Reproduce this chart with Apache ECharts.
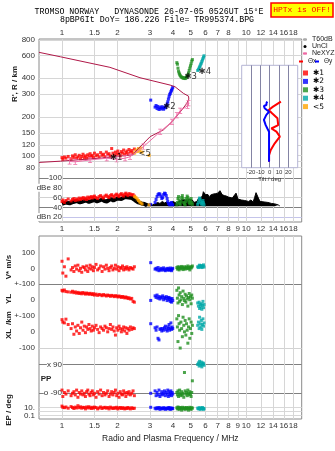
<!DOCTYPE html>
<html>
<head>
<meta charset="utf-8">
<script src="https://cdn.jsdelivr.net/npm/echarts@6.0.0/dist/echarts.min.js"></script>
<style>
html, body { margin: 0; padding: 0; background: #fff; }
#chart { width: 335px; height: 451px; }
</style>
</head>
<body>
<div id="chart"></div>
<script>
var L = Math.log10;

// axis ticks
var topTicks = [1, 1.5, 2, 3, 4, 5, 6, 7, 8, 10, 12, 14, 16, 18];
var freqTicks = [1, 1.5, 2, 3, 4, 5, 6, 7, 8, 9, 10, 12, 14, 16, 18];
var heightTicks = [80, 90, 100, 120, 150, 200, 300, 400, 600, 800];
var ampTicks = [20, 40, 60, 80, 100];
var vTicks = [-100, 0, 100];
var ylTicks = [-100, 0];
var xlTicks = [-100, 0];
var ppTicks = [-90, 90];
var epTicks = [0.1, 1, 10];
var tiltTicks = [-20, -10, 0, 10, 20];

// real height profile (MHz, km)
var profF = [0.75, 0.98, 1.61, 2.43, 2.55, 2.77, 3.01, 3.55, 3.95, 4.47, 4.76, 4.88, 4.86, 4.56, 4.11, 3.86, 2.65, 1.82, 0.98, 0.75];
var profH = [88, 90, 95, 101, 110, 124, 140, 158, 183, 226, 255, 275, 290, 305, 343, 354, 404, 487, 589, 638];

// NeXYZ
var nexF = [1.10, 1.18, 1.42, 1.75, 1.98, 2.20, 2.34, 2.77, 3.41, 3.95, 4.20, 4.38, 4.80, 4.86];
var nexH = [89.5, 89, 92, 95, 93, 95, 97.5, 117, 153, 183, 206, 223, 244, 255];

// echo *1 (red)
var redF = [1.00, 1.01, 1.03, 1.05, 1.08, 1.12, 1.14, 1.16, 1.18, 1.20, 1.22, 1.24, 1.26, 1.28, 1.30,
    1.32, 1.34, 1.36, 1.38, 1.40, 1.42, 1.44, 1.46, 1.48, 1.50,
    1.53, 1.56, 1.59, 1.62, 1.65, 1.68, 1.71, 1.74, 1.77, 1.80, 1.83, 1.86, 1.89, 1.92, 1.95, 1.98,
    2.01, 2.04, 2.07, 2.10, 2.13, 2.16, 2.19, 2.22, 2.25, 2.28, 2.31, 2.35, 2.39, 2.43, 2.47];
var redH = [96, 93, 97, 95, 98, 94, 99, 96, 101, 95, 97, 100, 94, 98, 102, 96, 99, 95, 101, 97,
    103, 98, 100, 96, 104, 99, 101, 97, 105, 100, 102, 98, 106, 101, 103, 99, 113, 104, 100, 106,
    102, 108, 103, 99, 107, 104, 110, 101, 105, 108, 103, 111, 106, 109, 104, 112];
var redAmp = [52, 55, 50, 54, 57, 53, 56, 58, 54, 57, 55, 59, 56, 58, 60, 57, 59, 56, 61, 58,
    60, 62, 59, 61, 63, 60, 58, 62, 64, 61, 59, 63, 65, 62, 60, 64, 66, 63, 61, 65,
    67, 64, 62, 66, 68, 65, 63, 67, 69, 66, 64, 68, 67, 65, 66, 63];
var redV = [45, -30, 10, -50, 60, -10, 5, -20, 15, -5, 20, -15, 0, -25, 10, 5, -10, 15, -20, 0,
    20, -5, 10, -15, 5, 25, -10, 0, 15, -20, 10, -5, 20, 0, -15, 5, 15, -10, 0, 20,
    -5, 10, -15, 5, 0, 15, -10, 5, -5, 10, 0, -10, 5, 0, -5, 10];
var redYL = [60, 55, 62, 52, 50, 48, 54, 45, 50, 42, 47, 40, 44, 38, 46, 41, 36, 43, 39, 35,
    41, 37, 33, 39, 30, 36, 28, 34, 31, 26, 33, 29, 24, 30, 27, 22, 28, 25, 20, 26,
    23, 18, 24, 20, 15, 21, 17, 12, 18, 14, 8, 13, 5, 9, -10, -15];
var redXL = [75, 60, 55, 78, 45, 20, 50, -15, 30, 5, 40, -10, 25, 60, 10, 35, -5, 30, 15, 45,
    20, 5, 35, 10, 25, 40, 15, -5, 30, 20, 10, 35, 25, 0, 20, 45, 15, 30, 5, -20,
    25, 10, 35, 20, 0, 15, 30, 5, 25, -10, 20, 10, 30, 15, 25, 20];
var redPP = [-70, -110, -85, -95, -75, -105, -90, -80, -100, -70, -115, -85, -95, -75, -100, -90, -110, -80, -70, -95,
    -105, -85, -75, -100, -90, -115, -80, -95, -70, -105, -85, -100, -90, -75, -110, -95, -80, -100, -85, -70,
    -105, -90, -115, -80, -95, -100, -75, -90, -110, -85, -95, -80, -100, -90, -75, -105];
var redEP = [20, 10, 8, 12, 6, 15, 9, 5, 11, 7, 25, 8, 13, 6, 10, 9, 4, 12, 7, 14,
    8, 5, 10, 6, 11, 9, 4, 7, 12, 5, 8, 10, 6, 9, 4, 11, 7, 5, 8, 6,
    10, 4, 7, 9, 5, 8, 6, 4, 7, 5, 9, 6, 4, 8, 5, 6];

// echo *2 (blue)
var blueF = [3.03, 3.20, 3.24, 3.28, 3.32, 3.36, 3.40, 3.44, 3.48, 3.52, 3.56, 3.60, 3.64, 3.68, 3.72, 3.75, 3.78, 3.81, 3.84, 3.87, 3.90, 3.93, 3.96, 3.99];
var blueH = [270, 238, 245, 232, 241, 228, 236, 230, 240, 234, 229, 238, 235, 244, 252, 262, 275, 287, 298, 305, 314, 322, 330, 340];
var blueAmp = [46, 50, 56, 62, 66, 68, 67, 63, 58, 60, 66, 69, 68, 64, 58, 52, 48, 47, 45, 46, 48, 50, 46, 45];
var blueV = [36, -5, 0, -10, 5, -15, -8, 0, -12, -5, 3, -10, -15, -3, -8, 0, -12, -5, -10, 2, -8, -15, -5, 0];
var blueYL = [-4, 25, 15, 30, 10, 20, 5, 18, 12, 25, 0, 15, 8, 20, -5, 10, 15, 0, 12, -10, 5, -15, 8, -5];
var blueXL = [50, 25, 10, 30, -40, -50, 15, 20, 5, 20, 10, 25, 35, 15, 5, 30, 20, 45, 10, 25, 55, 15, 30, 20];
var bluePP = [-90, -75, -105, -85, -100, -70, -110, -95, -80, -100, -90, -75, -105, -85, -95, -70, -110, -80, -100, -90, -75, -105, -85, -95];
var blueEP = [10, 6, 4, 8, 5, 9, 3, 7, 5, 4, 8, 6, 3, 5, 7, 4, 6, 9, 5, 3, 7, 4, 6, 5];

// echo *3 (green)
var greenF = [4.20, 4.23, 4.26, 4.29, 4.32, 4.35, 4.38, 4.42, 4.46, 4.50, 4.54, 4.58, 4.62, 4.66, 4.70, 4.74, 4.78, 4.82, 4.86, 4.90, 4.94, 4.98, 5.02, 5.06, 5.10];
var greenH = [530, 515, 480, 455, 440, 430, 420, 412, 408, 405, 402, 400, 404, 398, 402, 408, 415, 425, 440, 460, 480, 500, 520, 545, 560];
var greenAmp = [45, 50, 58, 62, 55, 48, 46, 52, 60, 64, 58, 50, 47, 45, 52, 58, 63, 60, 55, 50, 47, 52, 58, 50, 46];
var greenV = [5, -5, 10, 0, -10, 8, 2, -3, 12, 5, -8, 0, 10, -5, 3, 8, -2, 15, 0, 5, -10, 10, 2, 8, 15];
var greenYL = [60, 10, -20, 75, 30, -10, 45, 0, 20, -30, 55, 10, -5, 35, -15, 25, 5, -40, 15, 40, 0, 20, -25, 30, 10];
var greenXL = [80, 30, -60, 100, 50, 10, -100, 60, 20, -30, 90, 40, 0, 70, -20, 50, 10, -70, 30, 80, -40, 20, 60, -10, 40];
var greenPP = [-85, -100, -75, -110, -90, -70, -95, -105, -80, -100, -90, -115, 40, -75, -95, -85, -105, -70, -90, -100, -80, -95, -110, -85, -12];
var greenEP = [8, 4, 12, 6, 3, 9, 5, 7, 2, 10, 4, 6, 8, 3, 5, 9, 4, 7, 2, 6, 10, 5, 3, 8, 6];

// echo *4 (cyan)
var cyanF = [5.45, 5.50, 5.55, 5.58, 5.62, 5.66, 5.70, 5.74, 5.78, 5.82, 5.86, 5.90];
var cyanH = [460, 470, 480, 490, 500, 515, 525, 540, 555, 570, 585, 600];
var cyanAmp = [46, 50, 55, 59, 57, 52, 48, 46, 50, 54, 49, 45];
var cyanV = [10, 5, 15, 20, 8, 12, 18, 5, 10, 15, 22, 8];
var cyanYL = [-20, -40, -15, -55, -30, -45, -25, -60, -35, -10, -50, -30];
var cyanXL = [40, 60, 20, 90, 50, 30, 70, 15, 45, 80, 35, 55];
var cyanPP = [90, 100, 80, 110, 95, 85, 105, 75, 90, 100, 95, 85];
var cyanEP = [6, 4, 8, 5, 3, 7, 5, 4, 9, 6, 3, 5];

// echo <5 (orange)
var orangeF = [2.48, 2.52, 2.56, 2.60, 2.64, 2.68, 2.72, 2.97];
var orangeH = [104, 110, 107, 113, 108, 114, 106, 100];
var orangeAmp = [62, 60, 57, 54, 51, 49, 47, 45];

// unclassified amplitude
var bandF = [1.00, 1.05, 1.10, 1.15, 1.20, 1.25, 1.30, 1.35, 1.40, 1.45, 1.50, 1.55, 1.60, 1.65, 1.70, 1.75, 1.80, 1.85, 1.90, 1.95,
    2.00, 2.05, 2.10, 2.15, 2.20, 2.25, 2.30, 2.35, 2.40, 2.45, 2.50, 2.55, 2.60, 2.65, 2.70, 2.75, 2.80, 2.85, 2.90];
var bandAmp = [47, 50, 48, 51, 53, 50, 52, 54, 51, 53, 55, 52, 54, 56, 53, 52, 55, 57, 54, 56,
    58, 60, 57, 59, 61, 62, 60, 58, 59, 56, 54, 52, 50, 49, 48, 46, 47, 45, 44];
var noiseF = [2.90, 2.95, 3.00, 3.05, 3.10, 3.20, 3.30, 3.40, 3.50, 3.60, 3.70, 3.80, 3.90, 3.95, 4.00, 4.05, 4.10,
    4.2, 4.3, 4.4, 4.5, 4.6, 4.7, 4.8, 4.9, 5.0, 5.1, 5.2, 5.3, 5.4, 5.5, 5.6, 5.7, 5.8, 5.85, 5.90, 5.95, 6.00,
    6.1, 6.2, 6.3, 6.4, 6.5, 6.6, 6.7, 6.8, 6.9, 7.0, 7.1, 7.2, 7.3, 7.4, 7.5, 7.6, 7.7, 7.8, 7.9,
    8.0, 8.2, 8.4, 8.6, 8.8, 8.9, 9.0, 9.2, 9.4, 9.6, 9.8, 10.0, 10.3, 10.6, 10.9, 11.1, 11.3, 11.5, 11.7, 11.9,
    12.2, 12.5, 12.8, 13.1, 13.4, 13.7, 14.0, 14.3, 14.6, 14.9, 15.2];
var noiseAmp = [47, 49, 46, 48, 45, 47, 50, 48, 52, 49, 51, 47, 50, 54, 52, 55, 50,
    48, 53, 50, 56, 52, 55, 51, 57, 53, 55, 50, 54, 52, 58, 62, 60, 65, 72, 68, 73, 66,
    63, 66, 60, 65, 62, 67, 63, 68, 64, 69, 72, 74, 70, 66, 69, 64, 68, 63, 66,
    61, 64, 59, 62, 69, 64, 57, 61, 55, 58, 54, 56, 52, 55, 51, 60, 70, 67, 57, 52,
    49, 51, 48, 50, 47, 48, 46, 47, 45, 45, 43];

// in-plot echo tags
var tagF = [1.82, 3.54, 4.62, 5.51, 2.60];
var tagH = [95, 239, 411, 448, 102];
var tagText = ['\u27311', '\u27312', '\u27313', '\u27314', '<5'];

// tilt inset
var tiltHx = [89, 100, 110, 124, 140, 153, 162, 172, 195, 213, 226, 240, 263];
var thetaX = [-0.7, -0.7, 1.1, 5.4, 10.9, 7.2, 1.8, 9.1, 8.3, 2.5, -1.1, 3.6, 12];
var tiltHy = [89, 110, 153, 162, 172, 189, 207, 219, 233, 243, 247, 258, 263];
var thetaY = [-0.7, -0.7, -0.7, -2.5, -4.3, -6.2, -3.6, -0.7, -5.4, -6.2, -3.6, -3.3, -2.5];

var RED = '#ff0000', BLUE = '#0000ff', GREEN = '#1f8f1f', CYAN = '#00a8a8', ORANGE = '#ffa500';
var DARK = '#808080', LIGHT = '#d6d6d6', NONE = 'rgba(0,0,0,0)';

function fmtF(v) { return String(Math.round(Math.pow(10, v) * 10) / 10); }

function pairs(fs, vs, tf) {
    var ret = [];
    for (var i = 0; i < fs.length; i++) {
        ret.push([L(fs[i]), tf ? tf(vs[i]) : vs[i]]);
    }
    return ret;
}

function dots(name, color, idx, fs, vs, tf) {
    return {
        type: 'scatter', name: name, xAxisIndex: idx, yAxisIndex: idx,
        symbol: 'rect', symbolSize: 3, silent: true, z: 3,
        itemStyle: { color: color },
        data: pairs(fs, vs, tf)
    };
}

function freqAxis(grid, extra) {
    var ax = {
        type: 'value', gridIndex: grid, min: L(0.75), max: L(20),
        axisLine: { show: false },
        axisTick: { show: false, customValues: freqTicks.map(L) },
        axisLabel: { show: false },
        splitLine: { show: false }
    };
    for (var k in extra) ax[k] = extra[k];
    return ax;
}

function valAxis(grid, min, max, ticks, fmt, extra) {
    var ax = {
        type: 'value', gridIndex: grid, min: min, max: max,
        axisLine: { show: false },
        axisTick: { show: false, customValues: ticks },
        axisLabel: { customValues: ticks, formatter: fmt, margin: 4, fontSize: 8, color: '#333',
            showMinLabel: true, showMaxLabel: true },
        splitLine: { show: false }
    };
    for (var k in extra) ax[k] = extra[k];
    return ax;
}

var W = 262.7;
var grids = [
    { left: 39, top: 39, width: W, height: 183, show: true, borderColor: '#8a8a8a', borderWidth: 1 },
    { left: 39, top: 178, width: W, height: 44 },
    { left: 39, top: 236, width: W, height: 183, show: true, borderColor: '#8a8a8a', borderWidth: 1 },
    { left: 39, top: 284, width: W, height: 31.6 },
    { left: 39, top: 315.6, width: W, height: 40.4 },
    { left: 39, top: 356, width: W, height: 44 },
    { left: 39, top: 400, width: W, height: 19 },
    { left: 241.7, top: 65.3, width: 56, height: 102.4, show: true, backgroundColor: '#fff',
        borderColor: '#b4b4d4', borderWidth: 1, z: 3 }
];

var xAxes = [
    freqAxis(0, { position: 'top',
        axisLabel: { show: true, customValues: topTicks.map(L), formatter: fmtF, margin: 2, fontSize: 8, color: '#333' },
        splitLine: { show: true, lineStyle: { color: LIGHT } } }),
    freqAxis(1, { position: 'bottom',
        axisLabel: { show: true, customValues: freqTicks.map(L), formatter: fmtF, margin: 3, fontSize: 8, color: '#333' } }),
    freqAxis(2, { splitLine: { show: true, lineStyle: { color: LIGHT } } }),
    freqAxis(3, {}),
    freqAxis(4, {}),
    freqAxis(5, {}),
    freqAxis(6, { position: 'bottom',
        axisLabel: { show: true, customValues: freqTicks.map(L), formatter: fmtF, margin: 3, fontSize: 8, color: '#333' },
        name: 'Radio and Plasma Frequency / MHz', nameLocation: 'middle', nameGap: 15,
        nameTextStyle: { fontSize: 8.5, color: '#222' } }),
    { type: 'value', gridIndex: 7, min: -30, max: 30, z: 4,
        axisLine: { show: false },
        axisTick: { show: false, customValues: tiltTicks },
        axisLabel: { customValues: tiltTicks, fontSize: 6, margin: 2, color: '#333' },
        splitLine: { show: true, lineStyle: { color: '#8484a4' } },
        name: 'Tilt / deg', nameLocation: 'middle', nameGap: 8,
        nameTextStyle: { fontSize: 6, color: '#333' } }
];

var yAxes = [
    valAxis(0, 1.479, 2.909, heightTicks.map(L), function (v) { return String(Math.round(Math.pow(10, v))); },
        { splitLine: { show: true, lineStyle: { color: LIGHT } } }),
    valAxis(1, 10, 100, ampTicks, null, {
        axisLabel: { customValues: ampTicks, inside: true, align: 'right', margin: 23, fontSize: 8, color: '#333',
            backgroundColor: '#fff',
            formatter: function (v) { return v === 80 ? 'dBe 80' : (v === 20 ? 'dBn 20' : String(v)); } },
        splitLine: { show: true, lineStyle: { color: ['#c4c4ea', DARK, '#d2d2d2', NONE, DARK] } } }),
    valAxis(2, -960, 206, vTicks, function (v) { return v === -100 ? '+-100' : String(v); },
        { splitLine: { show: true, lineStyle: { color: [DARK, NONE, NONE] } } }),
    valAxis(3, -100, 100, ylTicks, function (v) { return v === -100 ? '+-100' : String(v); }, {}),
    valAxis(4, -149, 100, xlTicks, function (v) { return String(v); },
        { splitLine: { show: true, lineStyle: { color: ['#d2d2d2', NONE] } } }),
    valAxis(5, -132, 143, ppTicks, null, {
        axisLabel: { customValues: ppTicks, inside: true, align: 'right', margin: 23, fontSize: 8, color: '#333',
            backgroundColor: '#fff',
            formatter: function (v) { return v < 0 ? 'o -90' : 'x 90'; } },
        splitLine: { show: true, lineStyle: { color: [DARK, DARK] } } }),
    valAxis(6, -1.925, 2.825, epTicks.map(L), function (v) { return v < -0.5 ? '0.1' : (v > 0.5 ? '10.' : ''); },
        { splitLine: { show: true, lineStyle: { color: '#d8d8d8' } } }),
    { type: 'value', gridIndex: 7, min: L(80), max: L(505), show: false }
];

var series = [
    { type: 'line', name: 'T60dB', xAxisIndex: 0, yAxisIndex: 0, data: [],
        itemStyle: { color: '#aaaaaa' }, lineStyle: { color: '#aaaaaa' }, symbol: 'none' },
    { type: 'line', name: 'UnCl', xAxisIndex: 1, yAxisIndex: 1, data: pairs(bandF, bandAmp),
        symbol: 'none', z: 2, silent: true, itemStyle: { color: '#000' },
        lineStyle: { color: '#000', width: 4 } },
    { type: 'line', name: 'noise', xAxisIndex: 1, yAxisIndex: 1, data: pairs(noiseF, noiseAmp),
        symbol: 'none', z: 2, silent: true, itemStyle: { color: '#000' },
        lineStyle: { color: '#000', width: 1 }, areaStyle: { color: '#000', opacity: 1, origin: 42 } }
];

// echoes in every panel
var sets = [
    ['\u27311', RED, redF, redH, redAmp, redV, redYL, redXL, redPP, redEP],
    ['\u27312', BLUE, blueF, blueH, blueAmp, blueV, blueYL, blueXL, bluePP, blueEP],
    ['\u27313', GREEN, greenF, greenH, greenAmp, greenV, greenYL, greenXL, greenPP, greenEP],
    ['\u27314', CYAN, cyanF, cyanH, cyanAmp, cyanV, cyanYL, cyanXL, cyanPP, cyanEP]
];
for (var s = 0; s < sets.length; s++) {
    var d = sets[s];
    series.push(dots(d[0], d[1], 0, d[2], d[3], L));
    series.push(dots(d[0], d[1], 1, d[2], d[4]));
    series.push(dots(d[0], d[1], 2, d[2], d[5]));
    series.push(dots(d[0], d[1], 3, d[2], d[6]));
    series.push(dots(d[0], d[1], 4, d[2], d[7]));
    series.push(dots(d[0], d[1], 5, d[2], d[8]));
    series.push(dots(d[0], d[1], 6, d[2], d[9], L));
}
series.push(dots('<5', ORANGE, 0, orangeF, orangeH, L));
series.push(dots('<5', ORANGE, 1, orangeF, orangeAmp));

series.push({ type: 'line', name: 'profile', xAxisIndex: 0, yAxisIndex: 0, data: pairs(profF, profH, L),
    symbol: 'none', z: 4, silent: true, itemStyle: { color: '#b01848' },
    lineStyle: { color: '#b01848', width: 1 } });
series.push({ type: 'line', name: 'NeXYZ', xAxisIndex: 0, yAxisIndex: 0, data: pairs(nexF, nexH, L),
    symbol: 'path://M0 0H6V1.2H3.6V8.8H6V10H0V8.8H2.4V1.2H0Z', symbolSize: [4, 6], z: 5, silent: true,
    itemStyle: { color: '#ee6aa4' }, lineStyle: { color: '#ee6aa4', width: 1 } });
series.push({ type: 'scatter', name: 'tags', xAxisIndex: 0, yAxisIndex: 0, symbolSize: 0, z: 6, silent: true,
    data: pairs(tagF, tagH, L),
    label: { show: true, position: 'right', distance: 0, fontSize: 8.5, color: '#000', fontFamily: 'DejaVu Sans',
        formatter: function (p) { return tagText[p.dataIndex]; } } });

var tiltX = [], tiltY = [];
for (var i = 0; i < tiltHx.length; i++) tiltX.push([thetaX[i], L(tiltHx[i])]);
for (var j = 0; j < tiltHy.length; j++) tiltY.push([thetaY[j], L(tiltHy[j])]);
series.push({ type: 'line', name: '\u0398x', xAxisIndex: 7, yAxisIndex: 7, data: tiltX, symbol: 'none', z: 6,
    itemStyle: { color: RED }, lineStyle: { color: RED, width: 2 } });
series.push({ type: 'line', name: '\u0398y', xAxisIndex: 7, yAxisIndex: 7, data: tiltY, symbol: 'none', z: 6,
    itemStyle: { color: BLUE }, lineStyle: { color: BLUE, width: 2 } });

function thetaLegend(name, left) {
    return { left: left, top: 58, orient: 'horizontal', itemWidth: 4, itemHeight: 2, padding: 0,
        selectedMode: false, textStyle: { fontSize: 6.5, color: '#222' },
        data: [{ name: name, icon: 'rect' }] };
}

var legends = [
    { left: 302, top: 36, orient: 'vertical', itemWidth: 4, itemHeight: 3, itemGap: 0, padding: 0, selectedMode: false,
        textStyle: { fontSize: 7, lineHeight: 7, color: '#222' },
        data: ['T60dB', { name: 'UnCl', icon: 'circle' }, 'NeXYZ'] },
    thetaLegend('\u0398x', 299),
    thetaLegend('\u0398y', 315),
    { left: 303, top: 69, orient: 'vertical', itemWidth: 5, itemHeight: 5, itemGap: 0.4, padding: 0, selectedMode: false,
        textStyle: { fontSize: 7.5, lineHeight: 8, color: '#000', fontFamily: 'DejaVu Sans' },
        data: [{ name: '\u27311', icon: 'rect' }, { name: '\u27312', icon: 'rect' }, { name: '\u27313', icon: 'rect' },
            { name: '\u27314', icon: 'rect' }, { name: '<5', icon: 'rect' }] }
];

function vText(txt, x, y) {
    return { type: 'text', x: x, y: y, rotation: Math.PI / 2,
        style: { text: txt, font: 'bold 8px "Liberation Sans"', fill: '#222', align: 'center', verticalAlign: 'middle' } };
}

var graphics = [
    { type: 'text', x: 149, y: 11.5,
        style: { text: 'TROMSO NORWAY   DYNASONDE 26-07-05 0526UT 15\u00b0E', font: '8.3px "Liberation Mono"',
            fill: '#000', align: 'center', verticalAlign: 'middle' } },
    { type: 'text', x: 157, y: 19.5,
        style: { text: '8pBP6It DoY= 186.226 File= TR995374.BPG', font: '8.3px "Liberation Mono"',
            fill: '#000', align: 'center', verticalAlign: 'middle' } },
    { type: 'rect', shape: { x: 271, y: 3, width: 62, height: 14 },
        style: { fill: '#ffff00', stroke: '#ff0000', lineWidth: 1.5 } },
    { type: 'text', x: 302, y: 10,
        style: { text: 'HPTx is OFF!', font: '8px "Liberation Mono"', fill: '#ff0000', align: 'center', verticalAlign: 'middle' } },
    vText("R', R / km", 15, 84),
    vText('V* m/s', 9, 267),
    vText('YL', 9, 299),
    vText('/km', 9, 318),
    vText('XL', 9, 334),
    vText('EP / deg', 9, 410),
    { type: 'text', x: 46, y: 379,
        style: { text: 'PP', font: 'bold 8px "Liberation Sans"', fill: '#222', align: 'center', verticalAlign: 'middle' } }
];

var chart = echarts.init(document.getElementById('chart'));
chart.setOption({
    animation: false,
    backgroundColor: '#fff',
    textStyle: { fontFamily: 'Liberation Sans' },
    grid: grids,
    xAxis: xAxes,
    yAxis: yAxes,
    legend: legends,
    graphic: graphics,
    series: series
});
</script>
</body>
</html>
